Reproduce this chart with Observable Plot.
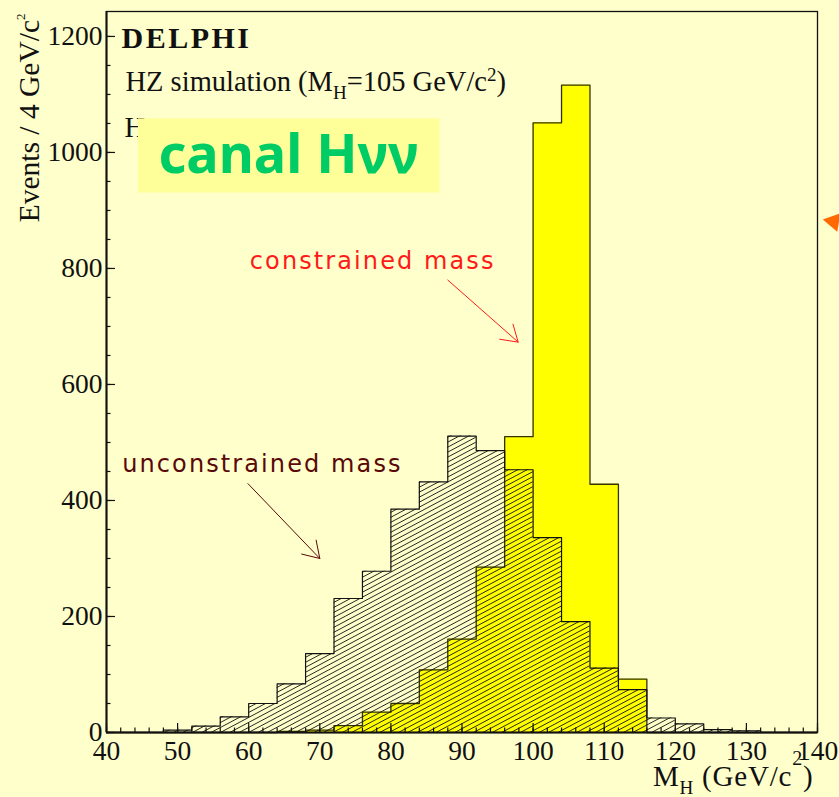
<!DOCTYPE html>
<html><head><meta charset="utf-8">
<script src="https://cdn.jsdelivr.net/npm/d3@7"></script>
<script src="https://cdn.jsdelivr.net/npm/@observablehq/plot@0.6"></script>
<style>
html,body{margin:0;padding:0;background:#ffffcc;}
#chart{width:839px;height:797px;overflow:hidden;}
</style></head>
<body><div id="chart"></div>
<script>
// bin lower edges (GeV/c^2), 4 GeV bins from 40 to 140
const binStarts = [40,44,48,52,56,60,64,68,72,76,80,84,88,92,96,100,104,108,112,116,120,124,128,132,136];
const binEnd = 140;
// unconstrained mass (hatched)
const unconstrained = [0,0,4,11,27,50,84,136,231,278,385,432,511,486,453,336,191,111,74,25,15,5,3,0,0];
// constrained mass (yellow)
const constrained = [0,0,0,0,0,0,2,4,12,35,50,108,161,285,510,1051,1116,428,92,0,0,0,0,0,0];
const xMajorTicks = [40,50,60,70,80,90,100,110,120,130,140];
const yMajorTicks = [0,200,400,600,800,1000,1200];
const arrowConstrained = [{x1: 88.0, y1: 780, x2: 97.9, y2: 673}];
const arrowUnconstrained = [{x1: 59.9, y1: 429, x2: 70.0, y2: 300}];
const canalBox = [{x1: 44.5, x2: 86.9, y1: 930, y2: 1058}];

function steps(values) {
  const pts = binStarts.map((x, i) => ({x, y: values[i]}));
  pts.push({x: binEnd, y: values[values.length - 1]});
  return pts;
}

const hatchDefs = () => {
  const defs = d3.create("svg:defs");
  const p = defs.append("pattern").attr("id", "hatch")
    .attr("patternUnits", "userSpaceOnUse")
    .attr("width", 12).attr("height", 4.4)
    .attr("patternTransform", "rotate(-28)");
  p.append("line").attr("x1", 0).attr("x2", 12).attr("y1", 2.2).attr("y2", 2.2)
    .attr("stroke", "#111").attr("stroke-width", 0.85);
  return defs.node();
};

const serif = "Liberation Serif, Times New Roman, serif";
const sans = "DejaVu Sans, sans-serif";

const chart = Plot.plot({
  width: 839, height: 797,
  marginLeft: 106, marginTop: 11, marginRight: 22, marginBottom: 65,
  x: {domain: [40, 140]},
  y: {domain: [0, 1243]},
  style: {background: "#ffffcc", fontFamily: serif, fontSize: "27px", color: "#111", overflow: "visible"},
  marks: [
    hatchDefs,
    // text under the box
    Plot.text(["H"], {frameAnchor: "top-left", dx: 18, dy: 125.7, text: d => d, textAnchor: "start", lineAnchor: "bottom", fontSize: 28.5, fontFamily: serif, fill: "#111"}),
    Plot.rect(canalBox, {x1: "x1", x2: "x2", y1: "y1", y2: "y2", fill: "#ffff99"}),
    Plot.text(["canal H\u03bd\u03bd"], {frameAnchor: "top-left", dx: 52, dy: 161.7, text: d => d, textAnchor: "start", lineAnchor: "bottom", fontSize: 54, fontWeight: 700, fontFamily: "Noto Sans, Lato, sans-serif", fill: "#00cc66"}),
    // constrained (yellow)
    Plot.areaY(steps(constrained), {x: "x", y: "y", curve: "step-after", fill: "#ffff00"}),
    Plot.lineY(steps(constrained), {x: "x", y: "y", curve: "step-after", stroke: "#333300", strokeWidth: 1.3}),
    // unconstrained (hatched)
    Plot.areaY(steps(unconstrained), {x: "x", y: "y", curve: "step-after", fill: "url(#hatch)"}),
    Plot.lineY(steps(unconstrained), {x: "x", y: "y", curve: "step-after", stroke: "#111", strokeWidth: 1.2}),
    // frame and axes
    Plot.frame({stroke: "#111", strokeWidth: 1.3}),
    Plot.ruleX([40], {stroke: "#111", strokeWidth: 2}),
    Plot.ruleY([0], {stroke: "#111", strokeWidth: 2}),
    Plot.ruleX(xMajorTicks, {x: d => d, insetTop: 712, stroke: "#111", strokeWidth: 1.2}),
    Plot.ruleX(d3.range(40, 141, 2), {x: d => d, insetTop: 716.5, stroke: "#111", strokeWidth: 1.2}),
    Plot.ruleY(yMajorTicks, {y: d => d, insetRight: 702, stroke: "#111", strokeWidth: 1.2}),
    Plot.ruleY(d3.range(0, 1201, 50), {y: d => d, insetRight: 706.5, stroke: "#111", strokeWidth: 1.2}),
    Plot.axisX({ticks: xMajorTicks, tickSize: 0, tickPadding: 8, fontSize: 27.5, label: null, tickFormat: d => String(d)}),
    Plot.axisY({ticks: yMajorTicks, tickSize: 0, tickPadding: 4, fontSize: 27.5, label: null, tickFormat: d => String(d)}),
    // titles
    Plot.text(["DELPHI"], {frameAnchor: "top-left", dx: 15, dy: 36.7, text: d => d, textAnchor: "start", lineAnchor: "bottom", fontSize: 30, fontWeight: "bold", fontFamily: serif, fill: "#111"}),
    Plot.text(["HZ simulation (MH=105 GeV/c2)"], {frameAnchor: "top-left", dx: 19, dy: 79.7, text: d => d, textAnchor: "start", lineAnchor: "bottom", fontSize: 28.5, fontFamily: serif, fill: "#111"}),
    Plot.text(["Events / 4 GeV/c2"], {frameAnchor: "top-left", dx: -68, dy: 2, text: d => d, rotate: -90, textAnchor: "end", lineAnchor: "bottom", fontSize: 29.5, fontFamily: serif, fill: "#111"}),
    Plot.text(["MH (GeV/c2)"], {frameAnchor: "bottom-right", dx: -4, dy: 53, text: d => d, textAnchor: "end", lineAnchor: "bottom", fontSize: 29, fontFamily: serif, fill: "#111"}),
    // annotations
    Plot.text(["constrained mass"], {frameAnchor: "top-left", dx: 143.3, dy: 257.3, text: d => d, textAnchor: "start", lineAnchor: "bottom", fontSize: 24, fontFamily: sans, fill: "#ff1a1a"}),
    Plot.arrow(arrowConstrained, {x1: "x1", y1: "y1", x2: "x2", y2: "y2", stroke: "#ff1a1a", strokeWidth: 1, headLength: 28, headAngle: 65}),
    Plot.text(["unconstrained mass"], {frameAnchor: "top-left", dx: 15.7, dy: 460.7, text: d => d, textAnchor: "start", lineAnchor: "bottom", fontSize: 24, fontFamily: sans, fill: "#5a0808"}),
    Plot.arrow(arrowUnconstrained, {x1: "x1", y1: "y1", x2: "x2", y2: "y2", stroke: "#5a0808", strokeWidth: 1, headLength: 28, headAngle: 65}),
    Plot.dot([0], {frameAnchor: "top-right", dx: 16, dy: 210, symbol: "triangle", r: 7, fill: "#ff6a00", stroke: "none", rotate: -80})
  ]
});

function findText(svg, content) {
  return d3.select(svg).selectAll("text").filter(function () { return this.textContent === content; });
}
function rich(svg, content, parts) {
  const t = findText(svg, content);
  if (t.empty()) return;
  t.text(null);
  let cur = 0;
  for (const p of parts) {
    const s = t.append("tspan").text(p.t);
    const target = p.dy || 0;
    if (target - cur !== 0) s.attr("dy", target - cur);
    if (p.fs) s.attr("font-size", p.fs);
    cur = target;
  }
}
rich(chart, "HZ simulation (MH=105 GeV/c2)", [
  {t: "HZ simulation (M"}, {t: "H", dy: 8, fs: 19}, {t: "=105 GeV/c"}, {t: "2", dy: -10.5, fs: 19}, {t: ")"}
]);
rich(chart, "MH (GeV/c2)", [
  {t: "M"}, {t: "H", dy: 8, fs: 19}, {t: " (GeV/c"}, {t: "2", dy: -21, fs: 20}, {t: ")"}
]);
rich(chart, "Events / 4 GeV/c2", [
  {t: "Events / 4 GeV/c"}, {t: "2", dy: -14, fs: 13}
]);
findText(chart, "DELPHI").attr("letter-spacing", 2.5);
findText(chart, "MH (GeV/c2)").attr("letter-spacing", 0.8);
findText(chart, "constrained mass").attr("letter-spacing", 2.1);
findText(chart, "unconstrained mass").attr("letter-spacing", 2.1);

document.getElementById("chart").appendChild(chart);
</script>
</body></html>
